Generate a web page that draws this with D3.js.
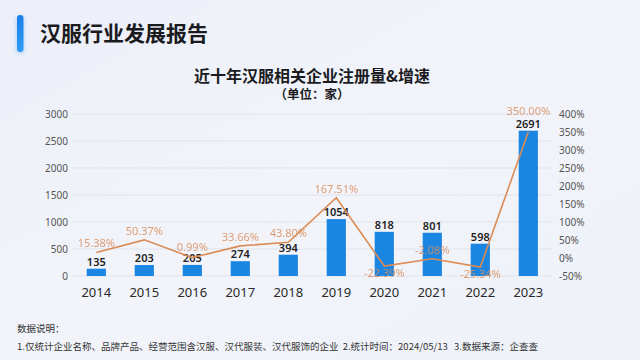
<!DOCTYPE html>
<html><head><meta charset="utf-8">
<script src="https://cdn.jsdelivr.net/npm/d3@7"></script>
<style>
html,body{margin:0;padding:0;}
body{width:640px;height:360px;overflow:hidden;font-family:"Noto Sans CJK SC","Noto Sans",sans-serif;}
</style></head>
<body><svg id="c" width="640" height="360"></svg>
<script>
const years = ["2014","2015","2016","2017","2018","2019","2020","2021","2022","2023"];
const counts = [135,203,205,274,394,1054,818,801,598,2691];
const growth = [15.38,50.37,0.99,33.66,43.80,167.51,-22.39,-2.08,-25.34,350.00];
const leftTicks = [0,500,1000,1500,2000,2500,3000];
const rightTicks = [-50,0,50,100,150,200,250,300,350,400];

const svg = d3.select("#c");
const defs = svg.append("defs");
const bg = defs.append("linearGradient").attr("id","bg").attr("x1","0").attr("y1","0").attr("x2","1").attr("y2","1");
bg.append("stop").attr("offset","0").attr("stop-color","#eceff8");
bg.append("stop").attr("offset","0.5").attr("stop-color","#f2f4fa");
bg.append("stop").attr("offset","1").attr("stop-color","#eef1f8");
const bl = defs.append("linearGradient").attr("id","bl").attr("x1","0").attr("y1","0").attr("x2","0").attr("y2","1");
bl.append("stop").attr("offset","0").attr("stop-color","#1a7fe8");
bl.append("stop").attr("offset","1").attr("stop-color","#2e9bf5");
defs.append("filter").attr("id","glow").attr("x","-1").attr("y","-1").attr("width","3").attr("height","3")
  .append("feGaussianBlur").attr("stdDeviation","2");

svg.append("rect").attr("width",640).attr("height",360).attr("fill","url(#bg)");

// header
svg.append("rect").attr("x",16).attr("y",16).attr("width",8).attr("height",38).attr("rx",4)
  .attr("fill","#8cc4fa").attr("opacity",0.6).attr("filter","url(#glow)");
svg.append("rect").attr("x",17).attr("y",15).attr("width",6.5).attr("height",37).attr("rx",3.2).attr("fill","url(#bl)");
svg.append("text").attr("x",40).attr("y",41).attr("font-size",21).attr("font-weight",700)
  .attr("fill","#1b1b1f").text("汉服行业发展报告");

svg.append("text").attr("x",312).attr("y",82).attr("text-anchor","middle").attr("font-size",16)
  .attr("font-weight",700).attr("fill","#1b1b1f").text("近十年汉服相关企业注册量&增速");
svg.append("text").attr("x",312).attr("y",99).attr("text-anchor","middle").attr("font-size",12.5)
  .attr("font-weight",700).attr("fill","#1b1b1f").text("（单位：家）");

const x = d3.scaleBand().domain(years).range([72.3,552.3]).paddingInner(0.6).paddingOuter(0.3);
const yL = d3.scaleLinear().domain([0,3000]).range([276,114]);
const yR = d3.scaleLinear().domain([-50,400]).range([276,114]);

// grid
svg.append("g").selectAll("line").data(leftTicks).join("line")
  .attr("x1",72).attr("x2",552).attr("y1",d=>yL(d)).attr("y2",d=>yL(d))
  .attr("stroke","#dfe3ec").attr("stroke-width",1);

const axL = svg.append("g").attr("transform","translate(68,0)")
  .call(d3.axisLeft(yL).tickValues(leftTicks).tickSize(0).tickPadding(0).tickFormat(d3.format("d")));
axL.select(".domain").remove();
axL.selectAll("text").attr("font-size",10).attr("fill","#555").attr("font-family","'Noto Sans',sans-serif");

const axR = svg.append("g").attr("transform","translate(559,0)")
  .call(d3.axisRight(yR).tickValues(rightTicks).tickSize(0).tickPadding(0).tickFormat(d=>d+"%"));
axR.select(".domain").remove();
axR.selectAll("text").attr("font-size",10).attr("fill","#555").attr("font-family","'Noto Sans',sans-serif");

const axB = svg.append("g").attr("transform","translate(0,285)")
  .call(d3.axisBottom(x).tickSize(0).tickPadding(0));
axB.select(".domain").remove();
axB.selectAll("text").attr("font-size",13).attr("fill","#2a2a2a").attr("dy","0.9em").attr("font-family","'Noto Sans',sans-serif");

// bars
svg.append("g").selectAll("rect").data(counts).join("rect")
  .attr("x",(d,i)=>x(years[i])).attr("width",x.bandwidth())
  .attr("y",d=>yL(d)).attr("height",d=>yL(0)-yL(d)).attr("fill","#1a86e2");
svg.append("g").selectAll("text").data(counts).join("text")
  .attr("x",(d,i)=>x(years[i])+x.bandwidth()/2).attr("y",d=>yL(d)-3)
  .attr("text-anchor","middle").attr("font-size",11).attr("font-weight",600).attr("fill","#222")
  .attr("font-family","'Noto Sans',sans-serif").text(d=>d);

// line
const cx = (i)=>x(years[i])+x.bandwidth()/2;
const line = d3.line().x((d,i)=>cx(i)).y(d=>yR(d));
svg.append("path").datum(growth).attr("d",line).attr("fill","none")
  .attr("stroke","#db8b55").attr("stroke-width",1.6);
// label offsets (layout only): negative = above point
const labelDy = [-5,-5,-7,-5,-5,-5,11,-5,11,-17];
svg.append("g").selectAll("text").data(growth).join("text")
  .attr("x",(d,i)=>cx(i)).attr("y",(d,i)=>yR(d)+labelDy[i])
  .attr("text-anchor","middle").attr("font-size",11).attr("fill","#d98e5e").attr("opacity",0.85)
  .attr("font-family","'Noto Sans',sans-serif").text(d=>d.toFixed(2)+"%");

// footer
svg.append("text").attr("x",17).attr("y",332).attr("font-size",9.5).attr("fill","#333").text("数据说明：");
svg.append("text").attr("x",17).attr("y",350).attr("font-size",9.5).attr("fill","#333")
  .attr("xml:space","preserve")
  .text("1.仅统计企业名称、品牌产品、经营范围含汉服、汉代服装、汉代服饰的企业  2.统计时间：2024/05/13   3.数据来源：企查查");
</script></body></html>
